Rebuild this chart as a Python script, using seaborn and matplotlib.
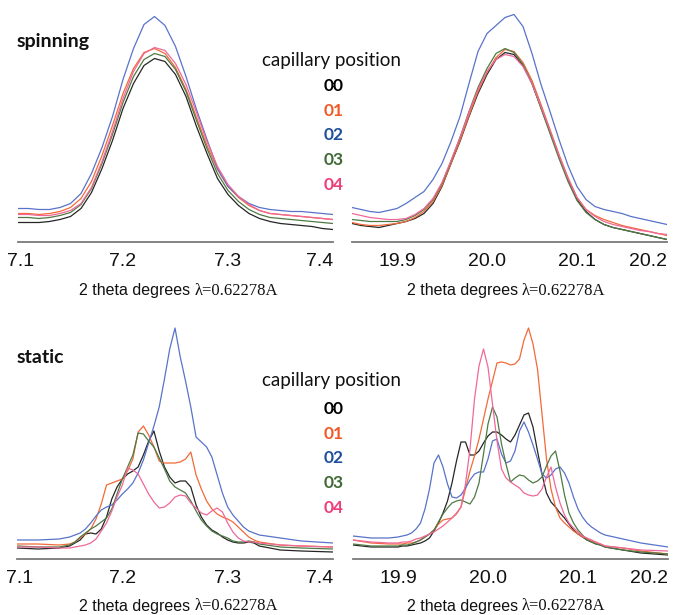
import numpy as np
import pandas as pd
import matplotlib
matplotlib.use("Agg")
import matplotlib.pyplot as plt
import matplotlib.transforms as mtransforms
from matplotlib.ticker import MultipleLocator
import seaborn as sns

# ---------------- data (intensity, arbitrary units) ----------------
SERIES = ["00", "01", "02", "03", "04"]

# spinning, peak near 7.23
TL_X = [7.10, 7.11, 7.12, 7.13, 7.14, 7.15, 7.16, 7.17, 7.18, 7.19, 7.20,
        7.21, 7.22, 7.23, 7.24, 7.25, 7.26, 7.27, 7.28, 7.29, 7.30,
        7.31, 7.32, 7.33, 7.34, 7.35, 7.36, 7.37, 7.38, 7.39, 7.40]
TL_00 = [19, 19, 19, 20, 22, 25, 33, 49, 73, 101, 133, 158, 176, 183, 180, 167, 145, 115, 88, 63, 47, 36, 28, 23, 20, 18, 17, 16, 15, 13, 12]
TL_01 = [28, 28, 27, 28, 30, 34, 43, 60, 86, 116, 148, 173, 189, 193, 188, 174, 152, 124, 96, 72, 55, 44, 36, 31, 28, 27, 26, 25, 24, 23, 22]
TL_02 = [33, 33, 32, 32, 34, 38, 48, 68, 94, 125, 162, 193, 217, 225, 216, 195, 165, 132, 102, 73, 55, 45, 38, 34, 32, 31, 30, 30, 29, 28, 27]
TL_03 = [24, 24, 23, 24, 26, 29, 37, 53, 78, 107, 139, 165, 182, 188, 185, 172, 150, 121, 93, 68, 51, 40, 32, 27, 24, 23, 22, 21, 20, 19, 18]
TL_04 = [27, 27, 26, 26, 28, 31, 38, 54, 80, 110, 143, 170, 188, 194, 191, 178, 157, 129, 100, 75, 57, 45, 37, 31, 28, 27, 26, 25, 24, 23, 22]

# spinning, peak near 20.02
TR_X = [19.85, 19.86, 19.87, 19.88, 19.89, 19.90, 19.91, 19.92, 19.93, 19.94,
        19.95, 19.96, 19.97, 19.98, 19.99, 20.00, 20.01, 20.02, 20.03, 20.04,
        20.05, 20.06, 20.07, 20.08, 20.09, 20.10, 20.11, 20.12, 20.13, 20.14,
        20.15, 20.16, 20.17, 20.18, 20.19, 20.20]
TR_00 = [18, 16, 15, 14, 16, 18, 20, 23, 28, 38, 55, 78, 100, 125, 148, 167, 182, 189, 187, 176, 158, 134, 110, 85, 62, 42, 30, 22, 17, 14, 12, 10, 8, 6, 4, 2]
TR_01 = [19, 17, 16, 16, 17, 18, 20, 24, 30, 40, 56, 78, 101, 126, 150, 169, 184, 192, 190, 179, 161, 137, 112, 87, 64, 44, 32, 26, 22, 19, 16, 14, 12, 10, 8, 6]
TR_02 = [34, 32, 30, 29, 31, 33, 38, 44, 50, 62, 78, 100, 125, 158, 190, 208, 216, 224, 227, 215, 188, 157, 130, 102, 76, 55, 42, 35, 32, 30, 28, 25, 23, 21, 19, 17]
TR_03 = [22, 21, 20, 20, 20, 20, 22, 26, 32, 42, 58, 80, 104, 130, 154, 173, 188, 193, 189, 177, 158, 133, 108, 83, 60, 41, 29, 22, 17, 14, 12, 10, 8, 6, 4, 2]
TR_04 = [28, 26, 24, 23, 22, 22, 23, 27, 33, 43, 59, 81, 104, 129, 152, 170, 182, 187, 185, 175, 158, 135, 111, 86, 63, 44, 32, 25, 20, 17, 15, 13, 11, 10, 8, 7]

# static, around 7.23
BL_X = [7.10, 7.12, 7.14, 7.15, 7.155, 7.16, 7.165, 7.17, 7.175, 7.18, 7.185,
        7.19, 7.195, 7.20, 7.205, 7.21, 7.215, 7.22, 7.225, 7.23, 7.235,
        7.24, 7.245, 7.25, 7.255, 7.26, 7.265, 7.27, 7.275, 7.28, 7.285,
        7.29, 7.295, 7.30, 7.305, 7.31, 7.315, 7.32, 7.325, 7.33, 7.35,
        7.37, 7.40]
BL_00 = [11, 10, 11, 13, 16, 19, 25, 26, 25, 30, 42, 60, 72, 80, 85, 88, 92, 104, 118, 128, 108, 92, 82, 76, 78, 78, 72, 54, 42, 34, 29, 26, 22, 19, 17, 16, 16, 17, 16, 13, 9, 8, 7]
BL_01 = [15, 15, 14, 15, 17, 21, 25, 30, 40, 55, 74, 76, 78, 80, 88, 100, 127, 133, 124, 112, 98, 96, 96, 96, 97, 100, 107, 84, 70, 58, 50, 45, 42, 40, 37, 32, 27, 22, 19, 17, 14, 13, 12]
BL_02 = [19, 19, 20, 22, 24, 26, 30, 36, 43, 49, 52, 54, 59, 65, 70, 76, 86, 99, 116, 133, 152, 180, 210, 231, 202, 178, 152, 122, 117, 112, 102, 84, 66, 52, 44, 38, 32, 28, 26, 24, 21, 18, 16]
BL_03 = [13, 12, 12, 14, 17, 22, 26, 30, 33, 37, 41, 50, 65, 80, 92, 104, 126, 125, 118, 112, 101, 90, 78, 72, 69, 66, 58, 48, 39, 33, 28, 25, 23, 21, 18, 17, 17, 18, 17, 15, 12, 11, 10]
BL_04 = [12, 12, 11, 11, 12, 13, 14, 16, 20, 28, 36, 48, 62, 74, 91, 89, 85, 75, 65, 57, 51, 52, 56, 62, 64, 63, 56, 51, 46, 44, 48, 51, 47, 36, 27, 21, 18, 17, 17, 16, 14, 13, 12]

# static, around 20.02
BR_X = [19.85, 19.87, 19.89, 19.90, 19.905, 19.91, 19.915, 19.92, 19.925, 19.93,
        19.935, 19.94, 19.945, 19.95, 19.955, 19.96, 19.965, 19.97, 19.975, 19.98,
        19.985, 19.99, 19.995, 20.00, 20.005, 20.01, 20.015, 20.02, 20.025, 20.03,
        20.035, 20.04, 20.045, 20.05, 20.055, 20.06, 20.065, 20.07, 20.075, 20.08,
        20.085, 20.09, 20.095, 20.10, 20.105, 20.11, 20.115, 20.12, 20.125, 20.13,
        20.15, 20.17, 20.20]
BR_00 = [14, 12, 12, 12, 13, 13, 14, 15, 16, 18, 21, 28, 36, 46, 58, 76, 98, 117, 117, 104, 104, 108, 116, 123, 127, 127, 124, 120, 117, 124, 134, 144, 146, 132, 108, 85, 66, 57, 52, 46, 41, 35, 29, 25, 22, 19, 17, 15, 14, 12, 9, 6, 4]
BR_01 = [19, 16, 15, 15, 15, 16, 16, 17, 19, 22, 25, 29, 35, 39, 40, 41, 45, 52, 70, 88, 103, 120, 140, 160, 178, 196, 197, 196, 194, 195, 200, 219, 231, 215, 190, 145, 100, 70, 52, 41, 36, 32, 28, 25, 22, 20, 18, 16, 15, 13, 11, 8, 5]
BR_02 = [23, 21, 21, 22, 23, 24, 26, 30, 36, 50, 70, 96, 104, 92, 75, 62, 61, 64, 71, 79, 85, 87, 87, 100, 118, 120, 105, 96, 98, 108, 128, 137, 127, 114, 100, 85, 81, 84, 90, 92, 86, 76, 62, 50, 42, 36, 32, 29, 26, 24, 20, 16, 12]
BR_03 = [15, 13, 13, 13, 14, 14, 15, 17, 19, 22, 25, 29, 37, 45, 51, 56, 58, 59, 57, 55, 62, 76, 105, 135, 152, 142, 115, 95, 77, 81, 84, 83, 79, 76, 78, 82, 93, 103, 108, 88, 64, 46, 36, 29, 24, 19, 17, 15, 14, 12, 9, 7, 5]
BR_04 = [19, 17, 16, 16, 17, 17, 18, 20, 21, 23, 25, 27, 30, 33, 37, 41, 46, 52, 75, 110, 160, 193, 210, 192, 155, 118, 90, 81, 77, 74, 71, 66, 64, 63, 64, 70, 82, 92, 72, 56, 44, 36, 31, 27, 23, 21, 19, 17, 15, 13, 11, 9, 8]

LOW_TICKS = [7.1, 7.2, 7.3, 7.4]
LOW_LABELS = ["7.1", "7.2", "7.3", "7.4"]
HIGH_TICKS = [19.9, 20.0, 20.1, 20.2]
HIGH_LABELS = ["19.9", "20.0", "20.1", "20.2"]

LINE_COLORS = {"00": "#262626", "01": "#f26a38", "02": "#5873c9", "03": "#4e7a44", "04": "#f0689a"}
TEXT_COLORS = {"00": "#000000", "01": "#f05a28", "02": "#1f4e9a", "03": "#3f6a35", "04": "#ec407a"}

# ---------------- drawing ----------------
sns.set_style("white")
plt.rcParams['font.family'] = ['Liberation Sans', 'DejaVu Sans']

W, H = 680, 615
fig = plt.figure(figsize=(W / 100, H / 100), dpi=100)


def px_axes(left, top, right, bottom):
    return fig.add_axes([left / W, 1 - bottom / H, (right - left) / W, (bottom - top) / H])


def long_df(xs, ys_list):
    frames = []
    for name, ys in zip(SERIES, ys_list):
        frames.append(pd.DataFrame({"x": xs, "y": ys, "series": name}))
    return pd.concat(frames, ignore_index=True)


panels = [
    (px_axes(18, 8, 333, 241.5), TL_X, [TL_00, TL_01, TL_02, TL_03, TL_04], (7.1, 7.4), LOW_TICKS, LOW_LABELS),
    (px_axes(352, 8, 667, 241.5), TR_X, [TR_00, TR_01, TR_02, TR_03, TR_04], (19.85, 20.2), HIGH_TICKS, HIGH_LABELS),
    (px_axes(17, 322, 333, 559), BL_X, [BL_00, BL_01, BL_02, BL_03, BL_04], (7.1, 7.4), LOW_TICKS, LOW_LABELS),
    (px_axes(353, 322, 668, 559), BR_X, [BR_00, BR_01, BR_02, BR_03, BR_04], (19.85, 20.2), HIGH_TICKS, HIGH_LABELS),
]

for ax, xs, ys_list, xlim, ticks, labels in panels:
    df = long_df(xs, ys_list)
    sns.lineplot(data=df, x="x", y="y", hue="series", hue_order=SERIES,
                 palette=LINE_COLORS, estimator=None, sort=False,
                 legend=False, linewidth=0.9, ax=ax)
    ax.set_xlim(*xlim)
    bbox = ax.get_position()
    ax.set_ylim(0, bbox.height * H)
    ax.set_yticks([])
    ax.set_xlabel("")
    ax.set_ylabel("")
    for s in ["left", "top", "right"]:
        ax.spines[s].set_visible(False)
    ax.spines["bottom"].set_color("#7a7a7a")
    ax.spines["bottom"].set_linewidth(1.3)
    ax.set_xticks(ticks)
    ax.set_xticklabels(labels)
    ax.xaxis.set_minor_locator(MultipleLocator(0.05))
    ax.tick_params(axis="x", which="major", length=5, width=1.2, color="#7a7a7a",
                   labelsize=14, pad=3, labelcolor="#111111")
    ax.tick_params(axis="x", which="minor", length=3, width=1.0, color="#7a7a7a")
    tl = ax.get_xticklabels()
    tl[-1].set_horizontalalignment("right")
    if xlim[0] == ticks[0]:
        tl[0].set_transform(tl[0].get_transform() +
                            mtransforms.ScaledTranslation(3 / 100, 0, fig.dpi_scale_trans))
    ax.patch.set_alpha(0)


def ftext(x, y, s, **kw):
    fig.text(x / W, 1 - y / H, s, **kw)


# axis labels
for xr, xl, y in [(190, 195, 291), (518, 522, 291), (190, 195, 606), (518, 522, 606)]:
    ftext(xr, y, "2 theta degrees", ha="right", va="center", fontsize=11.5,
          family=["Liberation Sans", "DejaVu Sans"], color="#111111")
    ftext(xl, y, "λ=0.62278A", ha="left", va="center", fontsize=12,
          family=["Liberation Serif", "DejaVu Serif"], color="#111111")

# panel titles
ftext(17, 47, "spinning", ha="left", va="baseline", fontsize=14, fontweight="bold",
      family=["Lato", "DejaVu Sans"], color="#111111")
ftext(17, 363, "static", ha="left", va="baseline", fontsize=14, fontweight="bold",
      family=["Lato", "DejaVu Sans"], color="#111111")

# legends
for base_title, base_num in [(66, 91), (386, 414)]:
    ftext(332, base_title, "capillary position", ha="center", va="baseline", fontsize=13.5,
          family=["Lato", "DejaVu Sans"], color="#111111")
    for i, name in enumerate(SERIES):
        ftext(334, base_num + i * 24.7, name, ha="center", va="baseline", fontsize=12.5,
              fontweight="bold", family=["Lato", "DejaVu Sans"], color=TEXT_COLORS[name])

fig.savefig("out.png", dpi=100)
